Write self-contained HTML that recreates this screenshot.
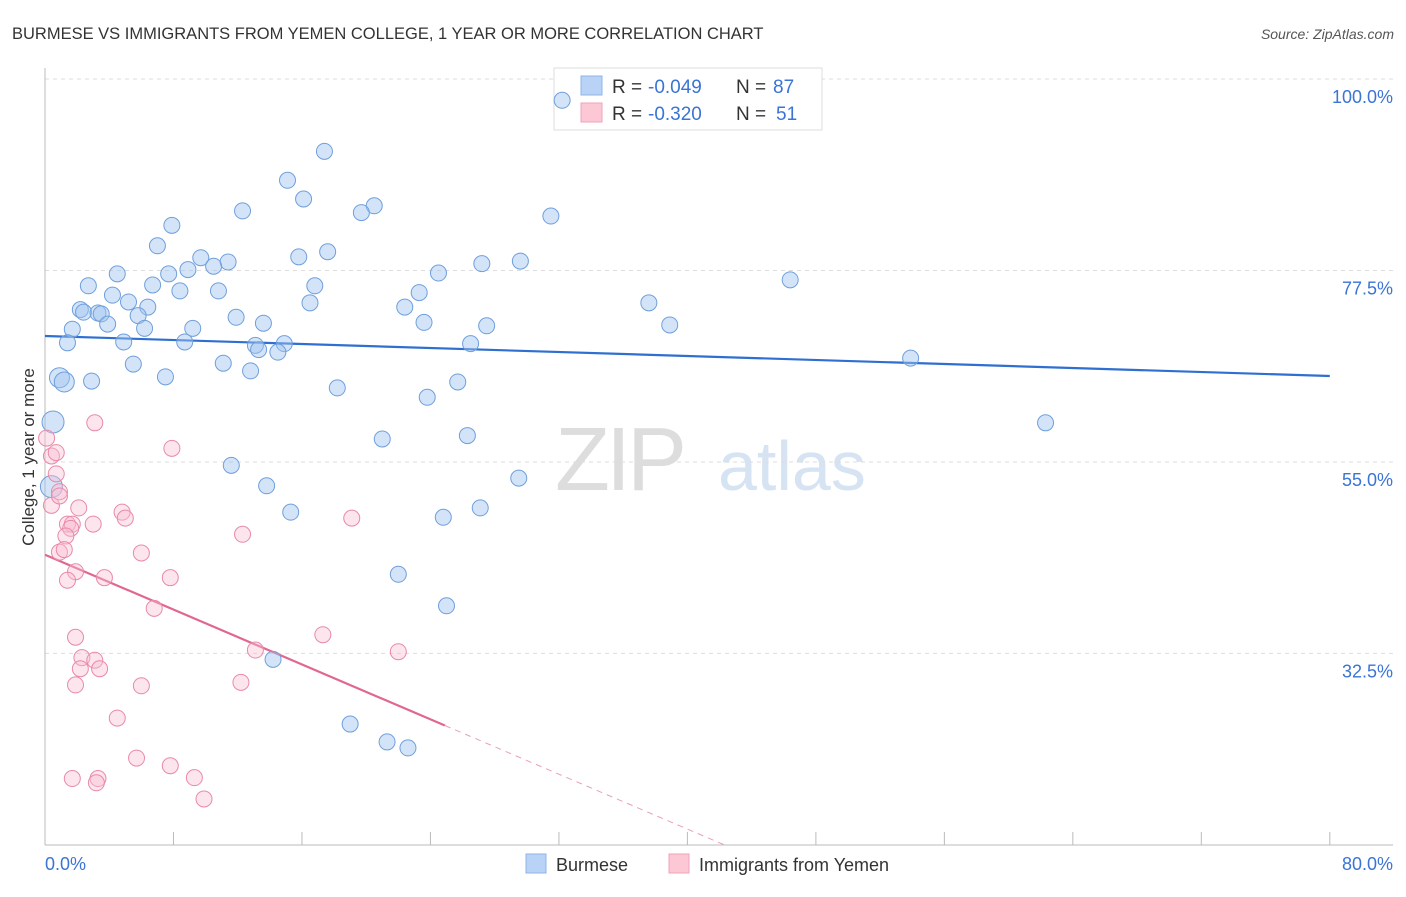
<!DOCTYPE html>
<html><head><meta charset="utf-8"><style>
body{margin:0;background:#fff;font-family:"Liberation Sans",sans-serif}
svg text{font-family:"Liberation Sans",sans-serif}
</style></head><body>
<svg id="chart" width="1406" height="892" viewBox="0 0 1406 892">
<text x="12" y="39" font-size="16.5" fill="#333">BURMESE VS IMMIGRANTS FROM YEMEN COLLEGE, 1 YEAR OR MORE CORRELATION CHART</text>
<text x="1394" y="39" font-size="14" fill="#555" font-style="italic" text-anchor="end">Source: ZipAtlas.com</text>
<g>
<text x="555" y="490" font-size="90" fill="#ddd" font-family="Liberation Serif" letter-spacing="-4">ZIP</text>
<text x="718" y="490" font-size="70" fill="#d5e3f3">atlas</text>
</g>
<g id="grid"></g>
<g id="axes"></g>
<g>
<rect x="554" y="68" width="268" height="62" fill="#fff" stroke="#ddd"/>
<rect x="581" y="76" width="21" height="19" fill="#b8d3f5" stroke="#8fb5e8"/>
<rect x="581" y="103" width="21" height="19" fill="#fcc8d6" stroke="#f0a3b8"/>
<text x="612" y="93" font-size="19" fill="#333">R =</text>
<text x="648" y="93" font-size="19" fill="#3a74d4">-0.049</text>
<text x="736" y="93" font-size="19" fill="#333">N =</text>
<text x="773" y="93" font-size="19" fill="#3a74d4">87</text>
<text x="612" y="120" font-size="19" fill="#333">R =</text>
<text x="648" y="120" font-size="19" fill="#3a74d4">-0.320</text>
<text x="736" y="120" font-size="19" fill="#333">N =</text>
<text x="776" y="120" font-size="19" fill="#3a74d4">51</text>
</g>
<g id="trends"></g>
<g id="points"></g>
<text transform="translate(34,457) rotate(-90)" font-size="17" fill="#333" text-anchor="middle">College, 1 year or more</text>
<g>
<rect x="526" y="854" width="20" height="19" fill="#b8d3f5" stroke="#8fb5e8"/>
<text x="556" y="871" font-size="18" fill="#333">Burmese</text>
<rect x="669" y="854" width="20" height="19" fill="#fcc8d6" stroke="#f0a3b8"/>
<text x="699" y="871" font-size="18" fill="#333">Immigrants from Yemen</text>
</g>
</svg>
<script>
const yTicks=[100,77.5,55,32.5];
const yTickLabels=["100.0%","77.5%","55.0%","32.5%"];
const xLabels=["0.0%","80.0%"];
const blueX=[32.2,17.4,15.1,16.1,20.5,19.7,31.5,12.3,7.9,7.0,9.7,11.4,10.5,15.8,17.6,8.9,7.7,4.5,27.2,29.6,24.5,46.4,2.7,6.7,8.4,10.8,16.8,4.2,5.2,6.4,2.2,2.4,3.3,3.5,16.5,22.4,23.3,37.6,5.8,3.9,1.7,6.2,9.2,11.9,13.6,23.6,27.5,38.9,1.4,4.9,8.7,13.1,14.9,13.3,14.5,26.5,53.9,5.5,11.1,12.8,0.9,1.2,2.9,7.5,18.2,25.7,23.8,0.5,62.3,21.0,26.3,11.6,29.5,13.8,0.4,15.3,24.8,27.1,22.0,25.0,14.2,19.0,21.3,22.6];
const blueY=[97.5,91.5,88.1,85.9,85.1,84.3,83.9,84.5,82.8,80.4,79.0,78.5,78.0,79.1,79.7,77.6,77.1,77.1,78.3,78.6,77.2,76.4,75.7,75.8,75.1,75.1,75.7,74.6,73.8,73.2,72.9,72.6,72.5,72.4,73.7,73.2,74.9,73.7,72.2,71.2,70.6,70.7,70.7,72.0,71.3,71.4,71.0,71.1,69.0,69.1,69.1,68.7,68.9,68.2,67.9,68.9,67.2,66.5,66.6,65.7,64.9,64.4,64.5,65.0,63.7,64.4,62.6,59.7,59.6,57.7,58.1,54.6,53.1,52.2,52.1,49.1,48.5,49.6,41.8,38.1,31.8,24.2,22.1,21.4];
const pinkX=[3.1,7.9,0.1,0.4,0.7,0.7,0.9,0.4,2.1,0.9,4.8,5.0,1.4,1.7,1.6,3.0,19.1,1.3,12.3,0.9,1.2,6.0,1.9,3.7,7.8,1.4,6.8,1.9,17.3,2.3,3.1,2.2,3.4,13.1,22.0,1.9,6.0,12.2,4.5,5.7,7.8,1.7,3.3,3.2,9.3,9.9];
const pinkY=[59.6,56.6,57.8,55.7,56.1,53.6,51.5,49.9,49.6,51.0,49.1,48.4,47.7,47.7,47.2,47.7,48.4,46.3,46.5,44.4,44.7,44.3,42.1,41.4,41.4,41.1,37.8,34.4,34.7,32.0,31.7,30.7,30.7,32.9,32.7,28.8,28.7,29.1,24.9,20.2,19.3,17.8,17.8,17.3,17.9,15.4];
const blueTrend=[69.8,65.1];
const pinkTrend=[44.1,-0.806];
const NS="http://www.w3.org/2000/svg";
const X=v=>45+v*16.06, Y=v=>79+(100-v)*8.51;
function mk(t,a,p){const e=document.createElementNS(NS,t);for(const k in a)e.setAttribute(k,a[k]);p.appendChild(e);return e;}
const grid=document.getElementById('grid'),axes=document.getElementById('axes');
yTicks.forEach((t,i)=>{
 const g=mk('line',{x1:45,x2:1393,y1:Y(t),y2:Y(t),stroke:'#ddd','stroke-dasharray':'4,4'},grid);
 
 
 const l=mk('text',{x:1393,y:Y(t)+24,'font-size':18,fill:'#3a74d4','text-anchor':'end'},axes);
 l.textContent=yTickLabels[i];
 
 
});
mk('line',{x1:45,x2:45,y1:68,y2:845,stroke:'#bbb'},axes);
mk('line',{x1:45,x2:1393,y1:845,y2:845,stroke:'#bbb'},axes);
for(let i=0;i<=10;i++){const t=mk('line',{x1:X(i*8),x2:X(i*8),y1:832,y2:845,stroke:'#bbb'},axes);
 
 }
[[0,'start',45],[80,'end',1393]].forEach((d,i)=>{const t=mk('text',{x:d[2],y:870,'font-size':18,fill:'#3a74d4','text-anchor':d[1]},axes);t.textContent=xLabels[i];
 
 });
const tr=document.getElementById('trends');
const b=mk('line',{x1:X(0),y1:Y(blueTrend[0]),x2:X(80),y2:Y(blueTrend[1]),stroke:'#2f6fd0','stroke-width':2.2},tr);


const pf=x=>pinkTrend[0]+pinkTrend[1]*x;
const p1=mk('line',{x1:X(0),y1:Y(pf(0)),x2:X(24.9),y2:Y(pf(24.9)),stroke:'#e0688f','stroke-width':2.2},tr);


const xe=(pinkTrend[0]-10)/-pinkTrend[1];
const p2=mk('line',{x1:X(24.9),y1:Y(pf(24.9)),x2:X(xe),y2:Y(pf(xe)),stroke:'#e8a0b5','stroke-width':1,'stroke-dasharray':'6,5'},tr);


const pts=document.getElementById('points');
blueX.forEach((x,i)=>{const r=x<1.3?(x<0.6?11:10):8;const c=mk('circle',{cx:X(x),cy:Y(blueY[i]),r:r,fill:'rgba(160,195,240,0.45)',stroke:'#6f9fdc','stroke-width':1},pts);
 
 });
pinkX.forEach((x,i)=>{const c=mk('circle',{cx:X(x),cy:Y(pinkY[i]),r:8,fill:'rgba(250,190,210,0.4)',stroke:'#e88aa8','stroke-width':1},pts);
 
 });
</script>
</body></html>
